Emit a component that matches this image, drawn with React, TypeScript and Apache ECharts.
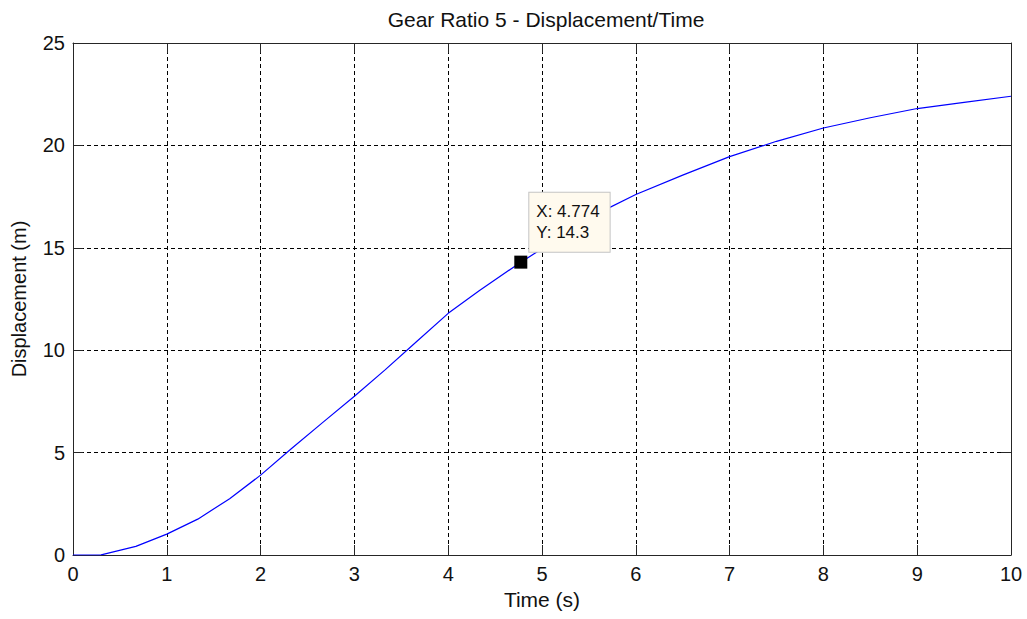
import React, { useEffect, useRef } from "react";
import * as echarts from "echarts";

const timeValues = [0, 0.3, 0.67, 1, 1.33, 1.67, 2, 2.33, 2.67, 3, 3.33, 3.67, 4, 4.33, 4.774, 5, 5.33, 5.67, 6, 6.5, 7, 7.5, 8, 8.5, 9, 9.5, 10];
const displacementValues = [0, 0.01, 0.42, 1.02, 1.75, 2.75, 3.9, 5.2, 6.5, 7.75, 9.05, 10.45, 11.8, 12.9, 14.3, 14.95, 15.85, 16.85, 17.6, 18.55, 19.45, 20.2, 20.85, 21.35, 21.8, 22.1, 22.4];
const tipX = 4.774;
const tipY = 14.3;
const xTicks = [0, 1, 2, 3, 4, 5, 6, 7, 8, 9, 10];
const yTicks = [0, 5, 10, 15, 20, 25];

const FONT = "'Liberation Sans', Arial, sans-serif";

export default function App() {
  const ref = useRef<HTMLDivElement>(null);
  useEffect(() => {
    document.body.style.margin = "0";
    const chart = echarts.init(ref.current!, undefined, { renderer: "svg" });
    const axisColor = "#262626";
    const tickCommon = { show: true, inside: true, length: 10, lineStyle: { color: axisColor, width: 1 } };
    const split = { show: true, lineStyle: { color: "#000", type: [4, 3] as any, width: 1 } };
    chart.setOption({
      animation: false,
      backgroundColor: "#fff",
      textStyle: { fontFamily: FONT },
      title: {
        text: "Gear Ratio 5 - Displacement/Time",
        left: 541,
        top: 4,
        textAlign: "center",
        textStyle: { fontFamily: FONT, fontSize: 21, fontWeight: "normal", color: "#111" },
      },
      grid: { left: 73, top: 43, right: 16, bottom: 64, containLabel: false },
      xAxis: [
        {
          type: "value",
          min: xTicks[0],
          max: xTicks[xTicks.length - 1],
          interval: 1,
          name: "Time (s)",
          nameLocation: "middle",
          nameGap: 34,
          nameTextStyle: { fontFamily: FONT, fontSize: 21, color: "#111" },
          axisLine: { show: true, onZero: false, lineStyle: { color: axisColor, width: 1 } },
          axisTick: tickCommon,
          axisLabel: { margin: 9, fontSize: 20, color: "#111", fontFamily: FONT, showMinLabel: true, showMaxLabel: true },
          splitLine: split,
        },
        {
          type: "value",
          position: "top",
          min: xTicks[0],
          max: xTicks[xTicks.length - 1],
          interval: 1,
          axisLine: { show: true, onZero: false, lineStyle: { color: axisColor, width: 1 } },
          axisTick: tickCommon,
          axisLabel: { show: false },
          splitLine: { show: false },
        },
      ],
      yAxis: [
        {
          type: "value",
          min: yTicks[0],
          max: yTicks[yTicks.length - 1],
          interval: 5,
          name: "Displacement (m)",
          nameLocation: "middle",
          nameGap: 44,
          nameTextStyle: { fontFamily: FONT, fontSize: 20, color: "#111" },
          axisLine: { show: true, onZero: false, lineStyle: { color: axisColor, width: 1 } },
          axisTick: tickCommon,
          axisLabel: { margin: 8, fontSize: 20, color: "#111", fontFamily: FONT, showMinLabel: true, showMaxLabel: true },
          splitLine: split,
        },
        {
          type: "value",
          position: "right",
          min: yTicks[0],
          max: yTicks[yTicks.length - 1],
          interval: 5,
          axisLine: { show: true, onZero: false, lineStyle: { color: axisColor, width: 1 } },
          axisTick: tickCommon,
          axisLabel: { show: false },
          splitLine: { show: false },
        },
      ],
      series: [
        {
          type: "line",
          data: timeValues.map((t, i) => [t, displacementValues[i]]),
          showSymbol: false,
          symbol: "none",
          lineStyle: { color: "#0000ff", width: 1.2 },
          z: 3,
        },
        {
          type: "scatter",
          data: [[tipX, tipY]],
          symbol: "rect",
          symbolSize: 13,
          itemStyle: { color: "#000", opacity: 1 },
          z: 5,
          label: {
            show: true,
            position: [15, -63],
            formatter: () => `X: ${tipX}\nY: ${tipY}`,
            fontFamily: FONT,
            fontSize: 17,
            lineHeight: 21,
            color: "#111",
            opacity: 1,
            backgroundColor: "#fffaee",
            borderColor: "#c4c4c4",
            borderWidth: 1,
            padding: [8, 10, 9, 7],
            align: "left",
            verticalAlign: "top",
          },
        },
      ],
    });
    return () => chart.dispose();
  }, []);
  return <div ref={ref} style={{ width: 1027, height: 619, position: "absolute", left: 0, top: 0 }} />;
}
